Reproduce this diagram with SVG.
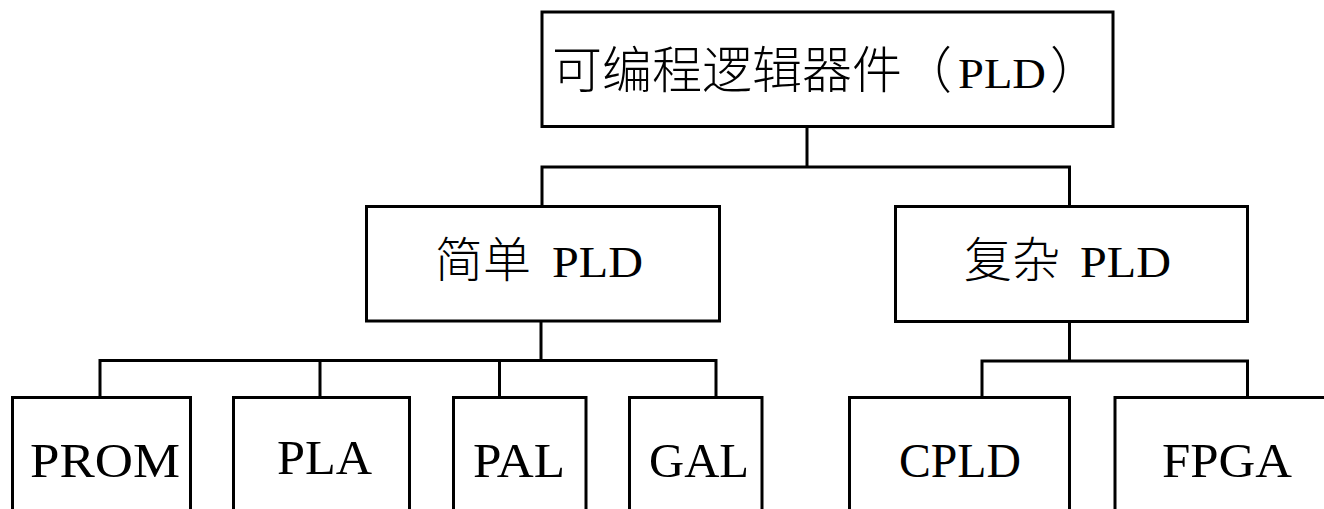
<svg xmlns="http://www.w3.org/2000/svg" width="1324" height="509" viewBox="0 0 1324 509">
  <defs>
    <style>
      .box { fill: #ffffff; stroke: #000000; stroke-width: 3; }
      .conn { fill: none; stroke: #000000; stroke-width: 3; stroke-linecap: square; }
      .cjk { font-family: "Noto Sans CJK SC", "Noto Sans CJK JP", sans-serif; font-weight: 300; fill: #000000; }
      .lat { font-family: "Liberation Serif", "Times New Roman", serif; fill: #000000; }
      .leaf { font-family: "Liberation Serif", "Times New Roman", serif; font-size: 48px; fill: #000000; }
    </style>
  </defs>
  <rect x="0" y="0" width="1324" height="509" fill="#ffffff"/>

  <g id="connectors">
    <path class="conn" d="M807 127 V167 M542 167 H1069.5 M542 167 V206 M1069.5 167 V206"/>
    <path class="conn" d="M541 321 V360.5 M100 360.5 H716 M100 360.5 V397 M320 360.5 V397 M499.5 360.5 V397 M716 360.5 V397"/>
    <path class="conn" d="M1069.5 321.5 V361 M982 361 H1247.5 M982 361 V397 M1247.5 361 V397"/>
  </g>

  <g id="node-pld">
    <rect class="box" x="542" y="12" width="571" height="114.5"/>
    <text y="88" font-size="50"><tspan class="cjk" x="552">可编程逻辑器件（</tspan><tspan class="lat" font-size="42" x="958" textLength="88" lengthAdjust="spacingAndGlyphs">PLD</tspan><tspan class="cjk" x="1050">）</tspan></text>
  </g>

  <g id="node-simple">
    <rect class="box" x="366.5" y="206.5" width="353" height="114.5"/>
    <text y="277"><tspan class="cjk" font-size="48" x="435">简单</tspan><tspan class="lat" font-size="45" x="552" textLength="91" lengthAdjust="spacingAndGlyphs">PLD</tspan></text>
  </g>

  <g id="node-complex">
    <rect class="box" x="895.5" y="206.5" width="352" height="115"/>
    <text y="277"><tspan class="cjk" font-size="48" x="964">复杂</tspan><tspan class="lat" font-size="45" x="1080" textLength="91" lengthAdjust="spacingAndGlyphs">PLD</tspan></text>
  </g>

  <g id="node-prom">
    <rect class="box" x="12.5" y="397.5" width="178" height="140"/>
    <text class="leaf" x="30" y="477" textLength="150" lengthAdjust="spacingAndGlyphs">PROM</text>
  </g>
  <g id="node-pla">
    <rect class="box" x="233.5" y="397.5" width="176" height="140"/>
    <text class="leaf" x="277" y="474" textLength="95" lengthAdjust="spacingAndGlyphs">PLA</text>
  </g>
  <g id="node-pal">
    <rect class="box" x="453.5" y="397.5" width="132.5" height="140"/>
    <text class="leaf" x="473" y="477" textLength="92" lengthAdjust="spacingAndGlyphs">PAL</text>
  </g>
  <g id="node-gal">
    <rect class="box" x="629.5" y="397.5" width="132.5" height="140"/>
    <text class="leaf" x="649" y="477" textLength="100" lengthAdjust="spacingAndGlyphs">GAL</text>
  </g>
  <g id="node-cpld">
    <rect class="box" x="849.5" y="397.5" width="220" height="140"/>
    <text class="leaf" x="899" y="477" textLength="122" lengthAdjust="spacingAndGlyphs">CPLD</text>
  </g>
  <g id="node-fpga">
    <rect class="box" x="1115" y="397.5" width="260" height="140"/>
    <text class="leaf" x="1162" y="477" textLength="130" lengthAdjust="spacingAndGlyphs">FPGA</text>
  </g>
</svg>
